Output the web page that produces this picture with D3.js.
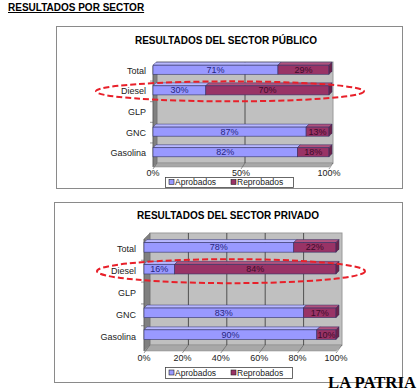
<!DOCTYPE html>
<html>
<head>
<meta charset="utf-8">
<script src="https://cdn.jsdelivr.net/npm/d3@7"></script>
<style>
  body { margin: 0; background: #fff; }
  svg { display: block; font-family: "Liberation Sans", Arial, sans-serif; }
</style>
</head>
<body>
<svg id="chart" width="420" height="390"></svg>
<script>
// data
const categories = ["Total", "Diesel", "GLP", "GNC", "Gasolina"];
const publicoAprobados = [71, 30, null, 87, 82];
const publicoReprobados = [29, 70, null, 13, 18];
const privadoAprobados = [78, 16, null, 83, 90];
const privadoReprobados = [22, 84, null, 17, 10];
const publicoTicks = [0, 50, 100];
const privadoTicks = [0, 20, 40, 60, 80, 100];
const legendLabels = ["Aprobados", "Reprobados"];

const colAprob = "#9999ff", colReprob = "#993366";
const svg = d3.select("#chart");

svg.append("text")
  .attr("x", 8).attr("y", 11)
  .attr("font-size", 10).attr("font-weight", "bold")
  .attr("text-decoration", "underline")
  .text("RESULTADOS POR SECTOR");

function drawChart(cfg) {
  let g = svg.append("g");

  g.append("rect")
    .attr("x", cfg.frame[0] + 0.5).attr("y", cfg.frame[1] + 0.5)
    .attr("width", cfg.frame[2]).attr("height", cfg.frame[3])
    .attr("fill", "#fff").attr("stroke", "#8a8a8a");

  g.append("text")
    .attr("x", cfg.titleX).attr("y", cfg.titleY)
    .attr("text-anchor", "middle")
    .attr("font-size", 10).attr("font-weight", "bold")
    .text(cfg.title);

  let x = d3.scaleLinear().domain([0, 100]).range([cfg.x0, cfg.x1]);
  let y = d3.scaleBand().domain(categories).range(cfg.band).paddingInner(0.56).paddingOuter(0.3);
  let d = cfg.d;
  let yF0 = cfg.yF0, yF1 = cfg.yF1;

  // walls
  g.append("rect")
    .attr("x", x(0) + d).attr("y", yF0 - d)
    .attr("width", x(100) - x(0)).attr("height", yF1 - yF0)
    .attr("fill", "#c0c0c0").attr("stroke", "#9a9a9a");
  g.append("polygon")
    .attr("points", [[x(0), yF0], [x(0) + d, yF0 - d], [x(0) + d, yF1 - d], [x(0), yF1]].join(" "))
    .attr("fill", "#808080").attr("stroke", "#6a6a6a").attr("stroke-width", 0.5);
  g.append("polygon")
    .attr("points", [[x(0), yF1], [x(0) + d, yF1 - d], [x(100) + d, yF1 - d], [x(100), yF1]].join(" "))
    .attr("fill", "#a8a8a8").attr("stroke", "#8a8a8a").attr("stroke-width", 0.5);

  // gridlines on back wall and floor
  g.selectAll(".grid")
    .data(cfg.ticks.filter(t => t > 0 && t < 100))
    .enter().append("line")
    .attr("x1", t => x(t) + d).attr("x2", t => x(t) + d)
    .attr("y1", yF0 - d).attr("y2", yF1 - d)
    .attr("stroke", "#333").attr("stroke-width", 0.8);
  g.selectAll(".floor")
    .data(cfg.ticks)
    .enter().append("line")
    .attr("x1", t => x(t)).attr("x2", t => x(t) + d)
    .attr("y1", yF1 + 2).attr("y2", yF1 - d)
    .attr("stroke", "#555").attr("stroke-width", 0.6);

  // left axis ticks
  g.append("line")
    .attr("x1", x(0)).attr("x2", x(0))
    .attr("y1", yF0).attr("y2", yF1)
    .attr("stroke", "#555").attr("stroke-width", 0.6);
  g.selectAll(".ytick")
    .data(categories.slice(1))
    .enter().append("line")
    .attr("x1", x(0) - 3).attr("x2", x(0))
    .attr("y1", c => y(c) - y.step() * y.paddingInner() / 2)
    .attr("y2", c => y(c) - y.step() * y.paddingInner() / 2)
    .attr("stroke", "#555").attr("stroke-width", 0.6);

  // bars
  let bd = cfg.bd, bh = y.bandwidth();
  categories.forEach(function(c, i) {
    if (cfg.aprob[i] == null) return;
    let segs = [
      { s: 0, e: cfg.aprob[i], fill: colAprob, top: "#b8b8ff", side: "#6f6fcc", lbl: "#262680" },
      { s: cfg.aprob[i], e: cfg.aprob[i] + cfg.reprob[i], fill: colReprob, top: "#b0527e", side: "#6e2249", lbl: "#3d0c2a" }
    ];
    let yt = y(c) + cfg.barShift;
    segs.forEach(function(sg, j) {
      let xs = x(sg.s), xe = x(sg.e);
      g.append("polygon")
        .attr("points", [[xs, yt], [xs + bd, yt - bd], [xe + bd, yt - bd], [xe, yt]].join(" "))
        .attr("fill", sg.top).attr("stroke", "#333366").attr("stroke-width", 0.5);
      g.append("rect")
        .attr("x", xs).attr("y", yt).attr("width", xe - xs).attr("height", bh)
        .attr("fill", sg.fill).attr("stroke", "#333366").attr("stroke-width", 0.6);
      if (j == 1) {
        g.append("polygon")
          .attr("points", [[xe, yt], [xe + bd, yt - bd], [xe + bd, yt + bh - bd], [xe, yt + bh]].join(" "))
          .attr("fill", sg.side).attr("stroke", "#333366").attr("stroke-width", 0.5);
      }
      g.append("text")
        .attr("x", (xs + xe) / 2).attr("y", yt + bh / 2 + 3)
        .attr("text-anchor", "middle")
        .attr("font-size", 9).attr("fill", sg.lbl)
        .text((sg.e - sg.s) + "%");
    });
  });

  // category labels
  g.selectAll(".cat")
    .data(categories)
    .enter().append("text")
    .attr("x", cfg.labelRight)
    .attr("y", c => y(c) + y.bandwidth() / 2 + 3)
    .attr("text-anchor", "end")
    .attr("font-size", 9).attr("fill", "#222")
    .text(c => c);

  // tick labels
  g.selectAll(".xt")
    .data(cfg.ticks)
    .enter().append("text")
    .attr("x", t => x(t)).attr("y", cfg.tickY)
    .attr("text-anchor", "middle")
    .attr("font-size", 9).attr("fill", "#222")
    .text(t => t + "%");

  // legend
  let lg = cfg.legend;
  g.append("rect")
    .attr("x", lg[0] + 0.5).attr("y", lg[1] + 0.5).attr("width", lg[2]).attr("height", lg[3])
    .attr("fill", "#fff").attr("stroke", "#444").attr("stroke-width", 0.8);
  [colAprob, colReprob].forEach(function(col, i) {
    let lx = lg[0] + 4 + i * 62;
    g.append("rect")
      .attr("x", lx).attr("y", lg[1] + lg[3] / 2 - 2.5).attr("width", 5).attr("height", 5)
      .attr("fill", col).attr("stroke", "#222").attr("stroke-width", 0.6);
    g.append("text")
      .attr("x", lx + 6).attr("y", lg[1] + lg[3] / 2 + 3)
      .attr("font-size", 8.5).attr("fill", "#222")
      .text(legendLabels[i]);
  });

  // red dashed highlight on Diesel
  g.append("ellipse")
    .attr("cx", cfg.ellipse[0])
    .attr("cy", y("Diesel") + y.bandwidth() / 2 + cfg.ellipse[3])
    .attr("rx", cfg.ellipse[1]).attr("ry", cfg.ellipse[2])
    .attr("fill", "none").attr("stroke", "#e8202a")
    .attr("stroke-width", 2).attr("stroke-dasharray", "6,3");
}

drawChart({
  title: "RESULTADOS DEL SECTOR PÚBLICO",
  aprob: publicoAprobados, reprob: publicoReprobados, ticks: publicoTicks,
  frame: [56, 26, 346, 162],
  titleX: 226, titleY: 44,
  x0: 153, x1: 329, d: 4, bd: 3,
  yF0: 66, yF1: 167,
  band: [60, 164], barShift: -1,
  labelRight: 146, tickY: 176,
  legend: [165, 177, 128, 10],
  ellipse: [230, 134, 10, 0]
});

drawChart({
  title: "RESULTADOS DEL SECTOR PRIVADO",
  aprob: privadoAprobados, reprob: privadoReprobados, ticks: privadoTicks,
  frame: [54, 202, 348, 180],
  titleX: 228, titleY: 219,
  x0: 144, x1: 336, d: 6, bd: 3,
  yF0: 239, yF1: 351,
  band: [238, 348], barShift: -2,
  labelRight: 136, tickY: 361,
  legend: [165, 367, 127, 11],
  ellipse: [231, 134, 12, 0]
});

// newspaper mark
svg.append("text")
  .attr("x", 328).attr("y", 388)
  .attr("font-family", "'Liberation Serif', serif")
  .attr("font-size", 16).attr("font-weight", "bold")
  .attr("textLength", 88).attr("lengthAdjust", "spacingAndGlyphs")
  .text("LA PATRIA");
</script>
</body>
</html>
